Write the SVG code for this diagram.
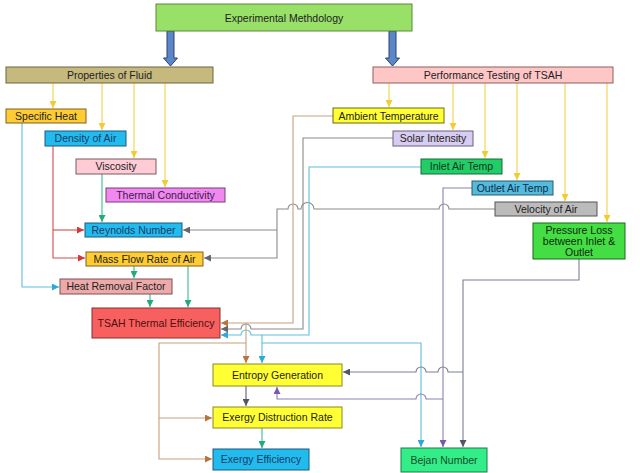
<svg xmlns="http://www.w3.org/2000/svg" width="640" height="473" viewBox="0 0 640 473">
<defs>
<style>
text{font-family:"Liberation Sans",Arial,sans-serif;font-size:10.5px;fill:#222;text-anchor:middle}
.c{fill:none;stroke-width:1.1}
.y{stroke:#f4d24a}.cy{stroke:#5cbfdc}.r{stroke:#d84a4a}.g{stroke:#3aba8a}.gr{stroke:#8a8a8a}.br{stroke:#c8a07e}.pu{stroke:#9080b0}.sl{stroke:#7a8090}.ds{stroke:#5a6070}
rect{stroke-width:1}
</style>
<marker id="my" viewBox="0 0 10 10" refX="10" refY="5" markerWidth="7" markerHeight="7" markerUnits="userSpaceOnUse" orient="auto"><path d="M0,0L10,5L0,10z" fill="#f0cc30"/></marker>
<marker id="mcy" viewBox="0 0 10 10" refX="10" refY="5" markerWidth="7" markerHeight="7" markerUnits="userSpaceOnUse" orient="auto"><path d="M0,0L10,5L0,10z" fill="#2aaad8"/></marker>
<marker id="mr" viewBox="0 0 10 10" refX="10" refY="5" markerWidth="7" markerHeight="7" markerUnits="userSpaceOnUse" orient="auto"><path d="M0,0L10,5L0,10z" fill="#d83838"/></marker>
<marker id="mg" viewBox="0 0 10 10" refX="10" refY="5" markerWidth="7" markerHeight="7" markerUnits="userSpaceOnUse" orient="auto"><path d="M0,0L10,5L0,10z" fill="#22aa77"/></marker>
<marker id="mgr" viewBox="0 0 10 10" refX="10" refY="5" markerWidth="7" markerHeight="7" markerUnits="userSpaceOnUse" orient="auto"><path d="M0,0L10,5L0,10z" fill="#666"/></marker>
<marker id="mbr" viewBox="0 0 10 10" refX="10" refY="5" markerWidth="7" markerHeight="7" markerUnits="userSpaceOnUse" orient="auto"><path d="M0,0L10,5L0,10z" fill="#b8743c"/></marker>
<marker id="mpu" viewBox="0 0 10 10" refX="10" refY="5" markerWidth="7" markerHeight="7" markerUnits="userSpaceOnUse" orient="auto"><path d="M0,0L10,5L0,10z" fill="#7a5aa8"/></marker>
<marker id="msl" viewBox="0 0 10 10" refX="10" refY="5" markerWidth="7" markerHeight="7" markerUnits="userSpaceOnUse" orient="auto"><path d="M0,0L10,5L0,10z" fill="#505868"/></marker>
</defs>
<rect width="640" height="473" fill="#fff"/>

<g id="connectors">
<!-- thick blue arrows -->
<path d="M167,31H174V58H177.5L170.5,66L163.5,58H167Z" fill="#5b87c8" stroke="#2a4070" stroke-width="1"/>
<path d="M389,31H396V58H399.5L392.5,66L385.5,58H389Z" fill="#5b87c8" stroke="#2a4070" stroke-width="1"/>
<!-- yellow from Properties -->
<path class="c y" d="M53,83V108" marker-end="url(#my)"/>
<path class="c y" d="M102,83V130" marker-end="url(#my)"/>
<path class="c y" d="M134,83V158" marker-end="url(#my)"/>
<path class="c y" d="M165,83V187" marker-end="url(#my)"/>
<!-- yellow from Performance -->
<path class="c y" d="M389,83V107" marker-end="url(#my)"/>
<path class="c y" d="M453,83V130" marker-end="url(#my)"/>
<path class="c y" d="M485,83V158" marker-end="url(#my)"/>
<path class="c y" d="M517,83V180" marker-end="url(#my)"/>
<path class="c y" d="M565,83V201" marker-end="url(#my)"/>
<path class="c y" d="M607,83V222" marker-end="url(#my)"/>
<!-- left side -->
<path class="c cy" d="M22,123V287H59" marker-end="url(#mcy)"/>
<path class="c r" d="M53,146V258H85" marker-end="url(#mr)"/>
<path class="c r" d="M53,230H84" marker-end="url(#mr)"/>
<path class="c g" d="M102,174V222" marker-end="url(#mg)"/>
<path class="c g" d="M134,266V278" marker-end="url(#mg)"/>
<path class="c g" d="M188,266V307" marker-end="url(#mg)"/>
<path class="c g" d="M150,294V307" marker-end="url(#mg)"/>
<!-- velocity of air -->
<path class="c gr" d="M495,209H449a5,5 0 0 0 -10,0H314a6.5,6.5 0 0 0 -13,0H298a5,5 0 0 0 -10,0H277V258H204" marker-end="url(#mgr)"/>
<path class="c gr" d="M277,230H183" marker-end="url(#mgr)"/>
<!-- ambient, solar, inlet to TSAH -->
<path class="c br" d="M333,116H293V323H221" marker-end="url(#mbr)"/>
<path class="c gr" d="M393,138H303V329H251a5,5 0 0 0 -10,0H221" marker-end="url(#mgr)"/>
<path class="c cy" d="M421,167H309V335H251a5,5 0 0 0 -10,0H221" marker-end="url(#mcy)"/>
<!-- brown to entropy and exergy -->
<path class="c br" d="M246,323V363" marker-end="url(#mbr)"/>
<path class="c br" d="M246,343H159V459H212" marker-end="url(#mbr)"/>
<path class="c br" d="M159,418H212" marker-end="url(#mbr)"/>
<!-- cyan to entropy and bejan -->
<path class="c cy" d="M262,335V363" marker-end="url(#mcy)"/>
<path class="c cy" d="M262,343H421V447" marker-end="url(#mcy)"/>
<!-- outlet and pressure loss to bejan -->
<path class="c pu" d="M472,188H443V447" marker-end="url(#mpu)"/>
<path class="c sl" d="M579,259V280H463V447" marker-end="url(#msl)"/>
<path class="c sl" d="M463,372H448a5,5 0 0 0 -10,0H426a5,5 0 0 0 -10,0H343" marker-end="url(#msl)"/>
<path class="c pu" d="M443,399H426a5,5 0 0 0 -10,0H277V387" marker-end="url(#mpu)"/>
<!-- entropy to exergy -->
<path class="c ds" d="M246,386V406" marker-end="url(#msl)"/>
<path class="c g" d="M262,428V448" marker-end="url(#mg)"/>
</g>

<g id="experimental"><rect x="156" y="4" width="256" height="27" fill="#98e068" stroke="#5a8a3a"/><text x="284" y="21.5">Experimental Methdology</text></g>
<g id="properties"><rect x="6" y="67" width="207" height="16" fill="#c6b97e" stroke="#6d6540"/><text x="109.5" y="79">Properties of Fluid</text></g>
<g id="performance"><rect x="373" y="67" width="240" height="16" fill="#ffc6c6" stroke="#8a6060"/><text x="493" y="79">Performance Testing of TSAH</text></g>
<g id="specific-heat"><rect x="6" y="109" width="80" height="14" fill="#ffcc33" stroke="#806020"/><text x="46" y="120">Specific Heat</text></g>
<g id="density"><rect x="45" y="131" width="81" height="15" fill="#22bbee" stroke="#1a5a7a"/><text x="85.5" y="142" style="fill:#1a3a66">Density of Air</text></g>
<g id="viscosity"><rect x="76" y="159" width="80" height="15" fill="#ffccd6" stroke="#7a5a60"/><text x="116" y="170">Viscosity</text></g>
<g id="thermal-conductivity"><rect x="106" y="188" width="119" height="14" fill="#f088f0" stroke="#7a3a7a"/><text x="165.5" y="199" style="fill:#3a1a4a">Thermal Conductivity</text></g>
<g id="reynolds"><rect x="85" y="223" width="97" height="14" fill="#22bbee" stroke="#1a5a7a"/><text x="133.5" y="234" style="fill:#1a3a66">Reynolds Number</text></g>
<g id="mass-flow"><rect x="86" y="252" width="117" height="14" fill="#ffcc33" stroke="#806020"/><text x="144.5" y="263">Mass Flow Rate of Air</text></g>
<g id="heat-removal"><rect x="60" y="279" width="112" height="15" fill="#eeaaaa" stroke="#7a5050"/><text x="116" y="290">Heat Removal Factor</text></g>
<g id="tsah-efficiency"><rect x="92" y="308" width="128" height="30" fill="#f86060" stroke="#803030"/><text x="156" y="326.5" style="fill:#4a1010">TSAH Thermal Efficiency</text></g>
<g id="entropy"><rect x="213" y="364" width="129" height="22" fill="#ffff33" stroke="#8a8a20"/><text x="277.5" y="378.5">Entropy Generation</text></g>
<g id="exergy-destruction"><rect x="213" y="407" width="129" height="21" fill="#ffff33" stroke="#8a8a20"/><text x="277.5" y="421">Exergy Distruction Rate</text></g>
<g id="exergy-efficiency"><rect x="213" y="449" width="96" height="21" fill="#22bbee" stroke="#1a5a7a"/><text x="261" y="463" style="fill:#1a3a66">Exergy Efficiency</text></g>
<g id="bejan"><rect x="401" y="448" width="86" height="24" fill="#33ee88" stroke="#1a7a44"/><text x="444" y="463.5" style="fill:#1a4a2a">Bejan Number</text></g>
<g id="ambient"><rect x="333" y="108" width="111" height="15" fill="#ffff33" stroke="#6a6a10"/><text x="388.5" y="119.5">Ambient Temperature</text></g>
<g id="solar"><rect x="393" y="131" width="80" height="15" fill="#d8ccf0" stroke="#6a6080"/><text x="433" y="142">Solar Intensity</text></g>
<g id="inlet"><rect x="421" y="159" width="81" height="15" fill="#22cc66" stroke="#1a6a3a"/><text x="461.5" y="170" style="fill:#0a3a1a">Inlet Air Temp</text></g>
<g id="outlet"><rect x="472" y="181" width="81" height="14" fill="#55bbdd" stroke="#2a5a6a"/><text x="512.5" y="192" style="fill:#0a2a4a">Outlet Air Temp</text></g>
<g id="velocity"><rect x="495" y="202" width="102" height="14" fill="#bbbbbb" stroke="#555"/><text x="546" y="213">Velocity of Air</text></g>
<g id="pressure-loss"><rect x="533" y="223" width="92" height="36" fill="#44dd44" stroke="#1a6a1a"/><text x="579" y="233.5" style="fill:#0a2a0a">Pressure Loss</text><text x="579" y="244.5" style="fill:#0a2a0a">between Inlet &amp;</text><text x="579" y="255.5" style="fill:#0a2a0a">Outlet</text></g>
</svg>
